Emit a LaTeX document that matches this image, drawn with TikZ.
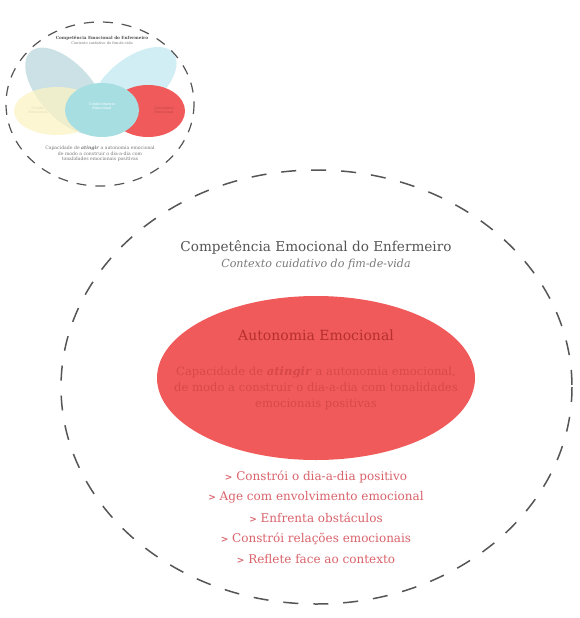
\documentclass[tikz,border=0pt]{standalone}
\usepackage{fontspec}
\setmainfont{DejaVu Serif}
\usetikzlibrary{shapes.geometric}
\definecolor{dashgray}{HTML}{555555}
\definecolor{titlegray}{HTML}{555555}
\definecolor{subgray}{HTML}{7A7A7A}
\definecolor{bigred}{HTML}{F05A5A}
\definecolor{darkred}{HTML}{B5302E}
\definecolor{midred}{HTML}{D84848}
\definecolor{listred}{HTML}{D9636B}
\definecolor{leafgray}{HTML}{C3DCE1}
\definecolor{leafcyan}{HTML}{CDEDF3}
\definecolor{softyellow}{HTML}{FBF3C4}
\definecolor{softcyan}{HTML}{A6DEE2}
\tikzset{
  bigring/.style={draw=dashgray, line width=1.5pt, dash pattern=on 15pt off 15pt},
  smallring/.style={draw=dashgray, line width=1.2pt, dash pattern=on 10pt off 9pt},
  listitem/.style={text=listred, font=\fontsize{12}{14}\selectfont, anchor=center},
  tiny/.style={font=\fontsize{3.6}{4.4}\selectfont, align=center}
}
\begin{document}
\begin{tikzpicture}[x=1pt,y=-1pt]
\useasboundingbox (0,0) rectangle (579,618);
\fill[white] (0,0) rectangle (579,618);

% ---------- small thumbnail ----------
\node[ellipse, fill=leafgray, opacity=0.85, minimum width=106pt, minimum height=54pt, rotate=-48, inner sep=0pt] (leafL) at (66,91) {};
\node[ellipse, fill=leafcyan, opacity=0.9, minimum width=100pt, minimum height=52pt, rotate=38, inner sep=0pt] (leafR) at (134,84) {};
\node[ellipse, fill=softyellow, opacity=0.75, minimum width=86pt, minimum height=48pt, inner sep=0pt] (yel) at (57,111) {};
\node[ellipse, fill=bigred, minimum width=74pt, minimum height=52pt, inner sep=0pt] (red) at (148,111) {};
\node[ellipse, fill=softcyan, minimum width=74pt, minimum height=54pt, inner sep=0pt] (cyan) at (102,110) {};
\node[tiny, text=white] (cyanT) at (102,106) {Conhecimento\\Emocional};
\node[tiny, text=softyellow!80!gray] (yelT) at (38,110) {Gestão\\Emocional};
\node[tiny, text=bigred!80!black] (redT) at (164,110) {Autonomia\\Emocional};
\node[font=\fontsize{4.2}{5}\selectfont\bfseries, text=titlegray] (sTitle) at (102,38) {Competência Emocional do Enfermeiro};
\node[font=\fontsize{3.6}{4.4}\selectfont, text=subgray] (sSub) at (102,43.5) {Contexto cuidativo do fim-de-vida};
\node[tiny, text=subgray, font=\fontsize{4.6}{5.6}\selectfont] (sText) at (100,154) {Capacidade de \textbf{\textit{atingir}} a autonomia emocional\\de modo a construir o dia-a-dia com\\tonalidades emocionais positivas};
\draw[smallring] (100,104) ellipse [x radius=94, y radius=82];

% ---------- main figure ----------
\draw[bigring] (316.5,387) ellipse [x radius=255.5, y radius=217];
\node[text=titlegray, font=\fontsize{13.6}{16}\selectfont] (title) at (316,247) {Competência Emocional do Enfermeiro};
\node[text=subgray, font=\fontsize{11.1}{13}\selectfont\itshape] (subtitle) at (316,264) {Contexto cuidativo do fim-de-vida};

\node[ellipse, fill=bigred, minimum width=318pt, minimum height=164pt, inner sep=0pt] (auto) at (316,378) {};
\node[text=darkred, font=\fontsize{14}{16}\selectfont] (autoT) at (316,335) {Autonomia Emocional};
\node[text=midred, align=center, font=\fontsize{11.6}{16}\selectfont] (autoD) at (316,388) {Capacidade de \textbf{\textit{atingir}} a autonomia emocional,\\de modo a construir o dia-a-dia com tonalidades\\emocionais positivas};

\node[listitem] (i1) at (316,477) {\textbf{\small >} Constrói o dia-a-dia positivo};
\node[listitem] (i2) at (316,497.5) {\textbf{\small >} Age com envolvimento emocional};
\node[listitem] (i3) at (316,518) {\textbf{\small >} Enfrenta obstáculos};
\node[listitem] (i4) at (316,539) {\textbf{\small >} Constrói relações emocionais};
\node[listitem] (i5) at (316,559.5) {\textbf{\small >} Reflete face ao contexto};
\end{tikzpicture}
\end{document}
